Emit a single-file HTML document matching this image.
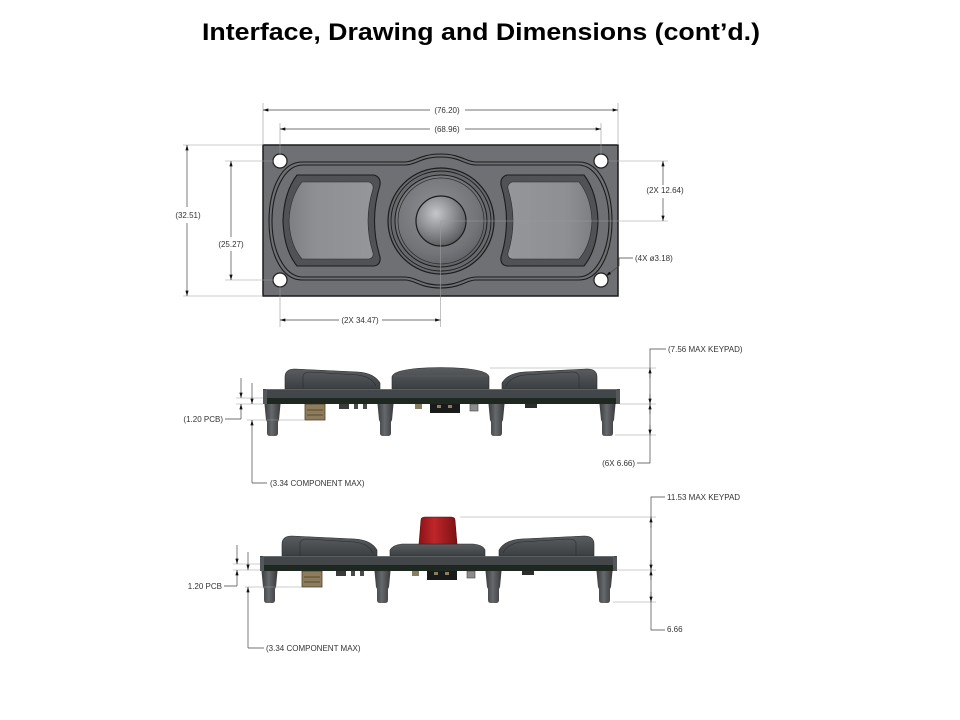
<!DOCTYPE html>
<html><head><meta charset="utf-8"><style>
html,body{margin:0;padding:0;background:#fff;}
svg{display:block;}
.d{font-family:"Liberation Sans",Arial,sans-serif;font-size:8px;fill:#333;}
.dl{stroke:#444;stroke-width:0.7;fill:none;}
.ex{stroke:#9a9a9a;stroke-width:0.6;fill:none;}
.ct{stroke:#1c1c1c;stroke-width:1.1;fill:none;}
</style></head><body>
<svg width="960" height="720" viewBox="0 0 960 720" xmlns="http://www.w3.org/2000/svg">
<defs>
<marker id="ar" viewBox="0 0 10 6" refX="10" refY="3" markerWidth="7" markerHeight="3.2" markerUnits="userSpaceOnUse" orient="auto-start-reverse"><path d="M0 0L10 3L0 6z" fill="#111"/></marker>
<linearGradient id="face" x1="0" y1="0" x2="1" y2="0"><stop offset="0" stop-color="#7d7f82"/><stop offset="0.3" stop-color="#8d8f92"/><stop offset="1" stop-color="#94969a"/></linearGradient>
<radialGradient id="knob" cx="0.4" cy="0.35" r="0.7"><stop offset="0" stop-color="#c4c6c8"/><stop offset="0.5" stop-color="#8e9093"/><stop offset="1" stop-color="#56585a"/></radialGradient>
<radialGradient id="dish" cx="0.45" cy="0.4" r="0.65"><stop offset="0" stop-color="#8e9093"/><stop offset="0.7" stop-color="#727477"/><stop offset="1" stop-color="#5c5e61"/></radialGradient>
<linearGradient id="leg" x1="0" y1="0" x2="1" y2="0"><stop offset="0" stop-color="#3a3c3e"/><stop offset="0.45" stop-color="#66696c"/><stop offset="1" stop-color="#38393b"/></linearGradient>
<linearGradient id="keys" x1="0" y1="0" x2="0" y2="1"><stop offset="0" stop-color="#5a5d60"/><stop offset="1" stop-color="#3c3f41"/></linearGradient>
<linearGradient id="red" x1="0" y1="0" x2="1" y2="0"><stop offset="0" stop-color="#8a1416"/><stop offset="0.4" stop-color="#c0262a"/><stop offset="1" stop-color="#7c1113"/></linearGradient>
</defs>

<!-- Title -->
<text x="481" y="40" text-anchor="middle" font-family="Liberation Sans, Arial, sans-serif" font-weight="bold" font-size="24" fill="#000" textLength="558" lengthAdjust="spacingAndGlyphs">Interface, Drawing and Dimensions (cont’d.)</text>

<!-- ================= TOP VIEW ================= -->
<rect x="263" y="145" width="355" height="151" fill="#6e7073" stroke="#1c1c1c" stroke-width="1.5"/>
<!-- outer contour -->
<path class="ct" d="M302 162 L405 162 C415 162 420 154 440.5 154 C461 154 466 162 476 162 L579 162 C600 162 612 190 612 221 C612 252 600 280 579 280 L476 280 C466 280 461 288 440.5 288 C420 288 415 280 405 280 L302 280 C281 280 269 252 269 221 C269 190 281 162 302 162 Z"/>
<path class="ct" d="M303 165 L405 165 C416 165 421 157 440.5 157 C460 157 465 165 476 165 L578 165 C597 165 609 192 609 221 C609 250 597 277 578 277 L476 277 C465 277 460 285 440.5 285 C421 285 416 277 405 277 L303 277 C284 277 272 250 272 221 C272 192 284 165 303 165 Z"/>
<!-- left key -->
<g id="keyL">
<path d="M297 175 L374 175 Q381 177 380 185 Q369 221 380 257 Q381 265 374 266 L297 266 Q284 250 283 221 Q284 192 297 175 Z" fill="#505255" stroke="#1c1c1c" stroke-width="1.1"/>
<path d="M302 182 L369 182 Q374 184 373 189 Q363 221 373 253 Q374 258 369 259 L302 259 Q290 245 289 221 Q290 197 302 182 Z" fill="url(#face)" stroke="#2a2a2a" stroke-width="0.6"/>
</g>
<use href="#keyL" transform="translate(881,0) scale(-1,1)"/>
<!-- center -->
<circle cx="441" cy="221" r="53" fill="#67696c" stroke="#1c1c1c" stroke-width="1.2"/>
<circle cx="441" cy="221" r="50" fill="none" stroke="#1c1c1c" stroke-width="0.9"/>
<circle cx="441" cy="221" r="46" fill="url(#dish)" stroke="#1c1c1c" stroke-width="1"/>
<circle cx="441" cy="221" r="43" fill="none" stroke="#2a2a2a" stroke-width="0.7"/>
<circle cx="441" cy="221" r="25" fill="url(#knob)" stroke="#1c1c1c" stroke-width="1.2"/>
<!-- holes -->
<circle cx="280" cy="161" r="7" fill="#fff" stroke="#1c1c1c" stroke-width="1.2"/>
<circle cx="601" cy="161" r="7" fill="#fff" stroke="#1c1c1c" stroke-width="1.2"/>
<circle cx="280" cy="280" r="7" fill="#fff" stroke="#1c1c1c" stroke-width="1.2"/>
<circle cx="601" cy="280" r="7" fill="#fff" stroke="#1c1c1c" stroke-width="1.2"/>

<!-- extension lines top view -->
<path class="ex" d="M263 103V145 M618 103V145 M280 123V154 M601 123V154 M183 145H263 M183 296H263 M225 161H273 M225 280H273 M280 287V327 M440.5 221V327 M608 161H668 M441 221H668"/>
<!-- (76.20) -->
<line class="dl" x1="430" y1="110" x2="263" y2="110" marker-end="url(#ar)"/>
<line class="dl" x1="465" y1="110" x2="618" y2="110" marker-end="url(#ar)"/>
<text class="d" x="447" y="113" text-anchor="middle">(76.20)</text>
<!-- (68.96) -->
<line class="dl" x1="430" y1="129" x2="280" y2="129" marker-end="url(#ar)"/>
<line class="dl" x1="465" y1="129" x2="601" y2="129" marker-end="url(#ar)"/>
<text class="d" x="447" y="132" text-anchor="middle">(68.96)</text>
<!-- (32.51) -->
<line class="dl" x1="187" y1="207" x2="187" y2="145" marker-end="url(#ar)"/>
<line class="dl" x1="187" y1="223" x2="187" y2="296" marker-end="url(#ar)"/>
<text class="d" x="188" y="218" text-anchor="middle">(32.51)</text>
<!-- (25.27) -->
<line class="dl" x1="231" y1="237" x2="231" y2="161" marker-end="url(#ar)"/>
<line class="dl" x1="231" y1="251" x2="231" y2="280" marker-end="url(#ar)"/>
<text class="d" x="231" y="247" text-anchor="middle">(25.27)</text>
<!-- (2X 34.47) -->
<line class="dl" x1="339" y1="320" x2="280" y2="320" marker-end="url(#ar)"/>
<line class="dl" x1="382" y1="320" x2="440.5" y2="320" marker-end="url(#ar)"/>
<text class="d" x="360" y="323" text-anchor="middle">(2X 34.47)</text>
<!-- (2X 12.64) -->
<line class="dl" x1="663" y1="185" x2="663" y2="161" marker-end="url(#ar)"/>
<line class="dl" x1="663" y1="198" x2="663" y2="221" marker-end="url(#ar)"/>
<text class="d" x="665" y="193" text-anchor="middle">(2X 12.64)</text>
<!-- (4X ø3.18) -->
<path class="dl" d="M633 258H619 V266"/>
<line class="dl" x1="619" y1="266" x2="606" y2="276" marker-end="url(#ar)"/>
<text class="d" x="635" y="261">(4X ø3.18)</text>

<!-- ================= SIDE VIEW 1 ================= -->
<g id="side">
<!-- legs -->
<path d="M264.5 404 L280.5 404 L279 420 L278 422 L278 433 Q278 436 275 436 L270 436 Q267 436 267 433 L267 422 L266 420 Z" fill="url(#leg)"/>
<path d="M377.5 404 L393.5 404 L392 420 L391 422 L391 433 Q391 436 388 436 L383 436 Q380 436 380 433 L380 422 L379 420 Z" fill="url(#leg)"/>
<path d="M488.5 404 L504.5 404 L503 420 L502 422 L502 433 Q502 436 499 436 L494 436 Q491 436 491 433 L491 422 L490 420 Z" fill="url(#leg)"/>
<path d="M599.5 404 L615.5 404 L614 420 L613 422 L613 433 Q613 436 610 436 L605 436 Q602 436 602 433 L602 422 L601 420 Z" fill="url(#leg)"/>
<!-- components under board -->
<rect x="305" y="404" width="20" height="16" fill="#8d7d5c" stroke="#4e4028" stroke-width="0.8"/>
<line x1="307" y1="410" x2="323" y2="410" stroke="#4e4028" stroke-width="0.8"/>
<line x1="307" y1="415" x2="323" y2="415" stroke="#4e4028" stroke-width="0.8"/>
<rect x="339" y="404" width="10" height="5" fill="#3a3b3c"/>
<rect x="354" y="404" width="4" height="5" fill="#4a4b4c"/>
<rect x="363" y="404" width="4" height="5" fill="#4a4b4c"/>
<rect x="415" y="404" width="7" height="5" fill="#8a7e60"/>
<rect x="430" y="404" width="30" height="9" fill="#1a1a1a"/>
<rect x="437" y="405" width="4" height="3" fill="#8a7e60"/>
<rect x="448" y="405" width="4" height="3" fill="#8a7e60"/>
<rect x="470" y="404" width="8" height="7" fill="#8a8c8e" stroke="#444" stroke-width="0.6"/>
<rect x="525" y="404" width="12" height="4" fill="#2c2d2e"/>
<!-- board -->
<rect x="263" y="389" width="357" height="15" fill="#44474a"/>
<rect x="263" y="398" width="357" height="6" fill="#1e2820"/>
<line x1="266" y1="389.5" x2="617" y2="389.5" stroke="#6d7073" stroke-width="1"/>
<rect x="263" y="390" width="4" height="14" fill="#55585b"/>
<rect x="616" y="390" width="4" height="14" fill="#55585b"/>
<!-- keys -->
<g id="skey">
<path d="M285 389 L285 377 Q285 369 295 369 L358 372 Q374 373 380 383 L380 389 Z" fill="url(#keys)" stroke="#2a2c2e" stroke-width="0.6"/>
<path d="M303 389 L303 376 Q304 372 310 372 L358 375 Q372 377 376 386" fill="none" stroke="#2a2c2e" stroke-width="0.6"/>
</g>
<use href="#skey" transform="translate(882,0) scale(-1,1)"/>
</g>
<!-- center dome view 1 -->
<path d="M392 389 L392 377 Q393 368 440.5 367.5 Q488 368 489 377 L489 389 Z" fill="url(#keys)" stroke="#2a2c2e" stroke-width="0.6"/>
<line x1="394" y1="376" x2="487" y2="376" stroke="#5e6164" stroke-width="0.6"/>

<!-- dims view 1 left -->
<path class="ex" d="M236 398H263 M236 404H263 M247 420H305"/>
<line class="dl" x1="241" y1="378" x2="241" y2="398" marker-end="url(#ar)"/>
<line class="dl" x1="241" y1="419" x2="241" y2="404" marker-end="url(#ar)"/>
<line class="dl" x1="252" y1="383" x2="252" y2="404" marker-end="url(#ar)"/>
<line class="dl" x1="252" y1="483" x2="252" y2="420" marker-end="url(#ar)"/>
<path class="dl" d="M225 419H241 M252 483H267"/>
<text class="d" x="223" y="422" text-anchor="end">(1.20 PCB)</text>
<text class="d" x="270" y="486">(3.34 COMPONENT MAX)</text>
<!-- dims view 1 right -->
<path class="ex" d="M490 368H656 M620 404H656 M615 435H656"/>
<path class="dl" d="M666 349H650V463H637"/>
<line class="dl" x1="650" y1="378" x2="650" y2="368" marker-end="url(#ar)"/>
<line class="dl" x1="650" y1="394" x2="650" y2="404" marker-end="url(#ar)"/>
<line class="dl" x1="650" y1="414" x2="650" y2="404" marker-end="url(#ar)"/>
<line class="dl" x1="650" y1="425" x2="650" y2="435" marker-end="url(#ar)"/>
<text class="d" x="668" y="352">(7.56 MAX KEYPAD)</text>
<text class="d" x="635" y="466" text-anchor="end">(6X 6.66)</text>

<!-- ================= SIDE VIEW 2 ================= -->
<use href="#side" transform="translate(-3,167)"/>
<!-- center base + red knob -->
<path d="M390 556 L390 550 Q393 545 402 544 L473 544 Q483 545 485 550 L485 556 Z" fill="url(#keys)" stroke="#2a2c2e" stroke-width="0.6"/>
<path d="M419 544 L421 520 Q421 517 425 517 L451 517 Q455 517 455 520 L457 544 Z" fill="url(#red)" stroke="#5a0c0e" stroke-width="0.6"/>

<!-- dims view 2 left -->
<path class="ex" d="M233 564H260 M233 570H260 M245 587H302"/>
<line class="dl" x1="237" y1="545" x2="237" y2="564" marker-end="url(#ar)"/>
<line class="dl" x1="237" y1="586" x2="237" y2="570" marker-end="url(#ar)"/>
<line class="dl" x1="248" y1="552" x2="248" y2="570" marker-end="url(#ar)"/>
<line class="dl" x1="248" y1="648" x2="248" y2="587" marker-end="url(#ar)"/>
<path class="dl" d="M224 586H237 M248 648H264"/>
<text class="d" x="222" y="589" text-anchor="end">1.20 PCB</text>
<text class="d" x="266" y="651">(3.34 COMPONENT MAX)</text>
<!-- dims view 2 right -->
<path class="ex" d="M460 517H656 M617 570H656 M613 602H656"/>
<path class="dl" d="M665 497H651V630H665"/>
<line class="dl" x1="651" y1="528" x2="651" y2="517" marker-end="url(#ar)"/>
<line class="dl" x1="651" y1="560" x2="651" y2="570" marker-end="url(#ar)"/>
<line class="dl" x1="651" y1="580" x2="651" y2="570" marker-end="url(#ar)"/>
<line class="dl" x1="651" y1="592" x2="651" y2="602" marker-end="url(#ar)"/>
<text class="d" x="667" y="500">11.53 MAX KEYPAD</text>
<text class="d" x="667" y="632">6.66</text>
</svg>
</body></html>
